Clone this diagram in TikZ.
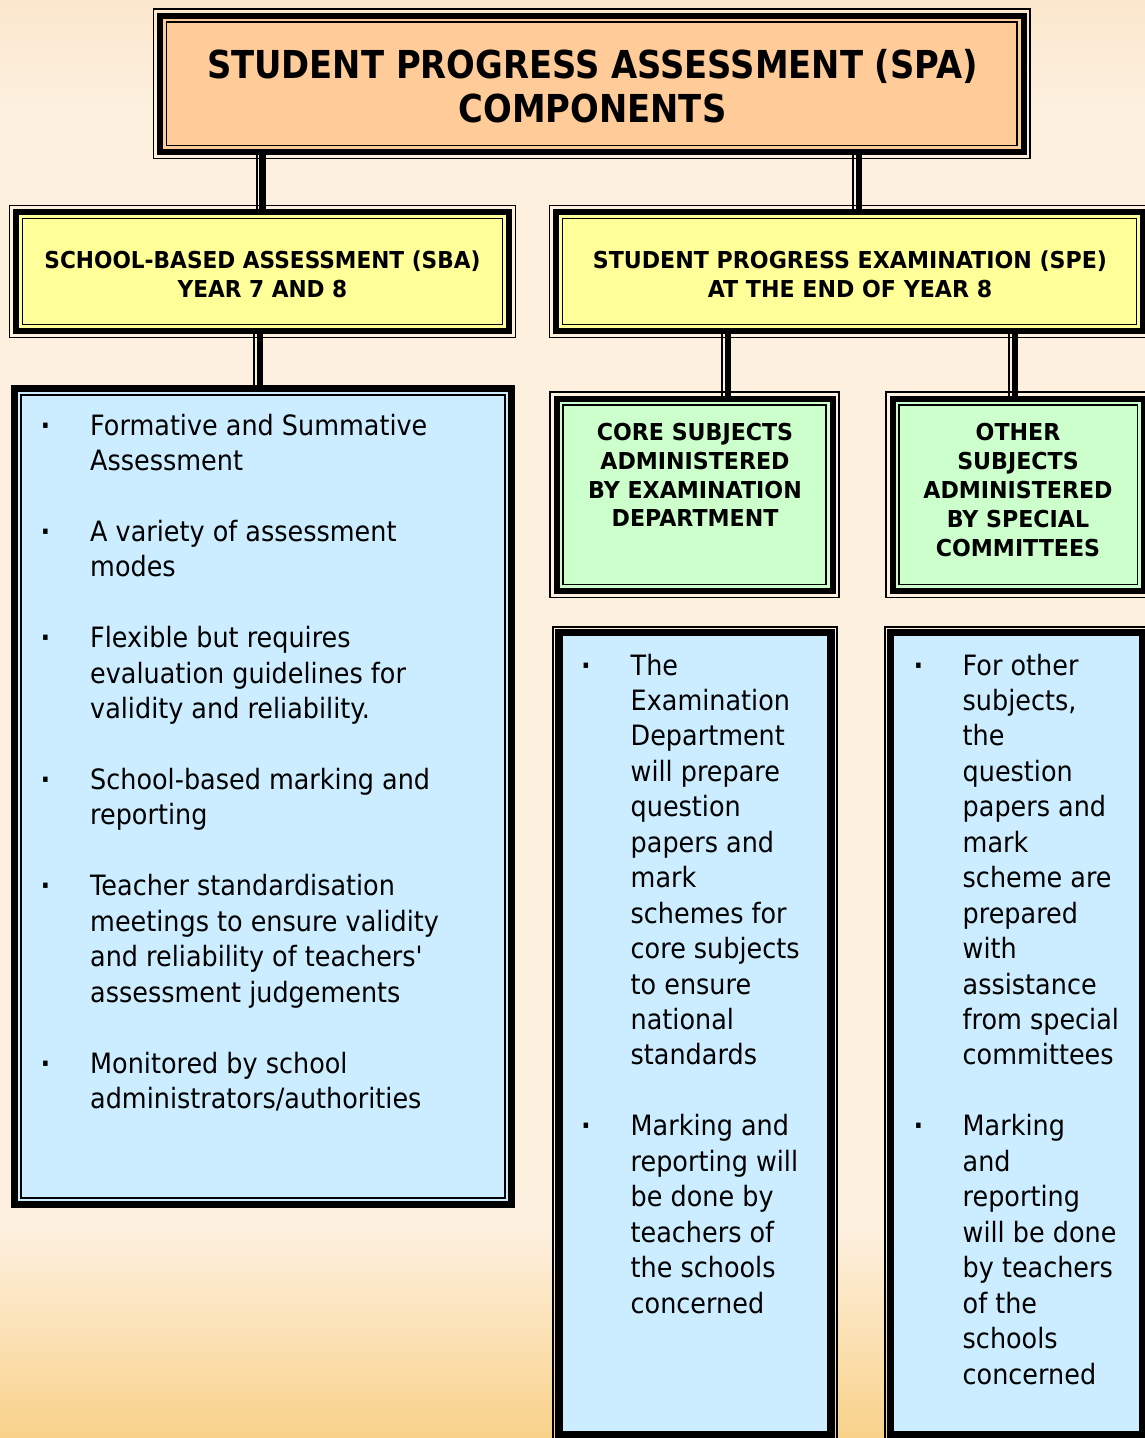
\documentclass[tikz,border=0pt]{standalone}
\usepackage{fontspec}
\setmainfont{DejaVu Sans}[FakeStretch=0.91]
\newfontfamily\hfont{DejaVu Sans}[FakeStretch=0.878]
\newfontfamily\sfont{DejaVu Sans}[FakeStretch=0.95]
\newfontfamily\sbafont{DejaVu Sans}[FakeStretch=0.93]
\usetikzlibrary{backgrounds}
\definecolor{bgmid}{HTML}{FDF0DF}
\definecolor{bgtop}{HTML}{FBE7CD}
\definecolor{bgbot}{HTML}{F9D28A}
\definecolor{peach}{HTML}{FFCC99}
\definecolor{ylw}{HTML}{FFFF99}
\definecolor{grn}{HTML}{CCFFCC}
\definecolor{blu}{HTML}{CCECFF}
\newcommand\tribox[1]{%
  \draw[line width=1.8pt] ([shift={(-6.5,-6.5)}]#1.north west) rectangle ([shift={(6.5,6.5)}]#1.south east);
  \draw[line width=1.8pt] ([shift={(6.5,6.5)}]#1.north west) rectangle ([shift={(-6.5,-6.5)}]#1.south east);}
\begin{document}
\begin{tikzpicture}[x=1pt,y=-1pt,
  thick frame/.style={draw=black, line width=6pt, outer sep=0pt, inner sep=0pt},
  conn/.style={draw=black, line width=6.5pt, preaction={draw=black, line width=2pt, transform canvas={xshift=-6pt}}},
  ttl/.style={font=\hfont\bfseries\fontsize{38.5}{44}\selectfont, anchor=base, inner sep=0pt},
  hd/.style={font=\sfont\bfseries\fontsize{23.3}{28}\selectfont, anchor=base, inner sep=0pt},
  hdsba/.style={font=\sbafont\bfseries\fontsize{23.3}{28}\selectfont, anchor=base, inner sep=0pt},
  body/.style={font=\fontsize{28}{35}\selectfont, anchor=base west, inner sep=0pt},
  bul/.style={font=\bfseries\fontsize{28}{35}\selectfont, anchor=base, inner sep=0pt}]
\useasboundingbox (0,0) rectangle (1145,1438);
\clip (0,0) rectangle (1145,1438);
\begin{pgfonlayer}{background}
  \fill[bgmid] (0,0) rectangle (1145,1438);
  \shade[top color=bgtop, bottom color=bgmid] (0,0) rectangle (1145,110);
  \shade[top color=bgmid, bottom color=bgbot] (0,1230) rectangle (1145,1438);
\end{pgfonlayer}

% ---- boxes ----
\node[thick frame, fill=peach, minimum width=863.5, minimum height=136.5] (title) at (591.75,83.75) {};
\tribox{title}
\node[thick frame, fill=ylw, minimum width=493, minimum height=119] (sba) at (262.5,271.5) {};
\tribox{sba}
\node[thick frame, fill=ylw, minimum width=587, minimum height=119] (spe) at (849.5,271.5) {};
\tribox{spe}
\node[thick frame, fill=grn, minimum width=276, minimum height=192.5] (core) at (694.5,494.75) {};
\tribox{core}
\node[thick frame, fill=grn, minimum width=251.5, minimum height=192.5] (other) at (1018.25,494.75) {};
\tribox{other}

\node[thick frame, line width=7pt, fill=blu, minimum width=497, minimum height=816] (lb) at (262.5,796.5) {};
\draw[line width=2pt] ([shift={(6.5,6.5)}]lb.north west) rectangle ([shift={(-6.5,-6.5)}]lb.south east);
\node[thick frame, line width=7.5pt, fill=blu, minimum width=272, minimum height=802.5] (cb) at (695,1033.75) {};
\draw[line width=2pt] ([shift={(-6,-6)}]cb.north west) rectangle ([shift={(6,6)}]cb.south east);
\node[thick frame, line width=7.5pt, fill=blu, minimum width=252.5, minimum height=802.5] (ob) at (1016.75,1033.75) {};
\draw[line width=2pt] ([shift={(-6,-6)}]ob.north west) rectangle ([shift={(6,6)}]ob.south east);

% ---- connectors ----
\coordinate (c1) at (sba.north);
\coordinate (c2) at ([xshift=9.5]spe.north);
\coordinate (c3) at ([xshift=-2.5]lb.north);
\coordinate (c4) at ([xshift=33.5]core.north);
\coordinate (c5) at ([xshift=-3.25]other.north);
\begin{pgfonlayer}{background}
  \draw[conn] (title.south -| c1) -- (c1);
  \draw[conn] (title.south -| c2) -- (c2);
  \draw[conn] (sba.south -| c3) -- (c3);
  \draw[conn] (spe.south -| c4) -- (c4);
  \draw[conn] (spe.south -| c5) -- (c5);
\end{pgfonlayer}

% ---- headings ----
\node[ttl] (t1) at (592.5,78) {STUDENT PROGRESS ASSESSMENT (SPA)};
\node[ttl] (t2) at (592.5,122) {COMPONENTS};
\node[hdsba] (s1) at (262.5,268) {SCHOOL-BASED ASSESSMENT (SBA)};
\node[hdsba] (s2) at (262.5,297) {YEAR 7 AND 8};
\node[hd] (e1) at (850,268) {STUDENT PROGRESS EXAMINATION (SPE)};
\node[hd] (e2) at (850,297) {AT THE END OF YEAR 8};
\foreach \k/\t in {0/CORE SUBJECTS, 1/ADMINISTERED, 2/BY EXAMINATION, 3/DEPARTMENT}
  \node[hd] (core-l\k) at (695,{440.7+28.7*\k}) {\t};
\foreach \k/\t in {0/OTHER, 1/SUBJECTS, 2/ADMINISTERED, 3/BY SPECIAL, 4/COMMITTEES}
  \node[hd] (other-l\k) at (1018,{440.7+29*\k}) {\t};

% ---- bullet texts ----
\foreach \k/\t in {0/Formative and Summative, 1/Assessment, 3/A variety of assessment, 4/modes,
  6/Flexible but requires, 7/evaluation guidelines for, 8/validity and reliability.,
  10/School-based marking and, 11/reporting, 13/Teacher standardisation,
  14/meetings to ensure validity, 15/{and reliability of teachers\textquotesingle}, 16/assessment judgements,
  18/Monitored by school, 19/{administrators/authorities}}
  \node[body] (lb-l\k) at (90,{435+35.45*\k}) {\t};
\foreach \k in {0,3,6,10,13,18}
  \node[bul] (lb-b\k) at (45.5,{435+35.45*\k}) {·};

\foreach \k/\t in {0/The, 1/Examination, 2/Department, 3/will prepare, 4/question, 5/papers and,
  6/mark, 7/schemes for, 8/core subjects, 9/to ensure, 10/national, 11/standards,
  13/Marking and, 14/reporting will, 15/be done by, 16/teachers of, 17/the schools, 18/concerned}
  \node[body] (cb-l\k) at (630.5,{675+35.45*\k}) {\t};
\foreach \k in {0,13}
  \node[bul] (cb-b\k) at (586,{675+35.45*\k}) {·};

\foreach \k/\t in {0/For other, 1/{subjects,}, 2/the, 3/question, 4/papers and, 5/mark,
  6/scheme are, 7/prepared, 8/with, 9/assistance, 10/from special, 11/committees,
  13/Marking, 14/and, 15/reporting, 16/will be done, 17/by teachers, 18/of the, 19/schools, 20/concerned}
  \node[body] (ob-l\k) at (962.5,{675+35.45*\k}) {\t};
\foreach \k in {0,13}
  \node[bul] (ob-b\k) at (918.5,{675+35.45*\k}) {·};
\end{tikzpicture}
\end{document}
